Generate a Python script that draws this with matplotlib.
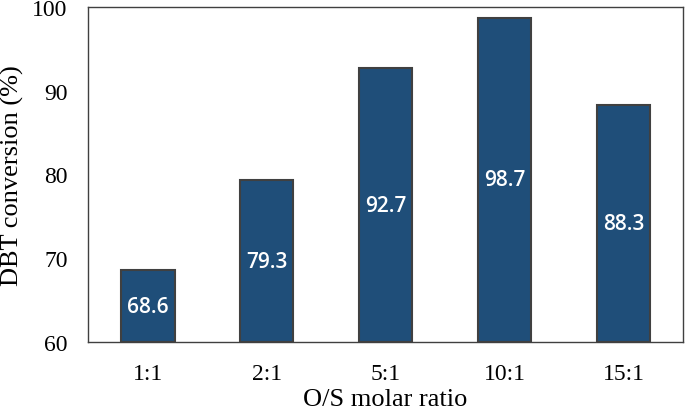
import matplotlib.pyplot as plt

ratios = ['1:1', '2:1', '5:1', '10:1', '15:1']
conversion = [68.6, 79.3, 92.7, 98.7, 88.3]

fig, ax = plt.subplots(figsize=(6.85, 4.1), dpi=100)
plt.subplots_adjust(left=0.129, right=0.997, top=0.981, bottom=0.163)

x = range(len(ratios))
ax.bar(x, [v - 60 for v in conversion], bottom=60, width=0.45,
       color='#1F4E79', edgecolor='#404040', linewidth=1.5)

for i, v in enumerate(conversion):
    ax.text(i, (v + 60) / 2, f'{v}', ha='center', va='center',
            color='white', fontsize=15, family='Open Sans', weight='semibold')

ax.set_xlim(-0.5, len(ratios) - 0.5)
ax.set_ylim(60, 100)
ax.set_yticks([60, 70, 80, 90, 100])
ax.set_xticks(list(x))
ax.set_xticklabels(ratios)
ax.tick_params(length=0, labelsize=17)
for lab in ax.get_xticklabels() + ax.get_yticklabels():
    lab.set_family('Liberation Serif')
ax.tick_params(axis='x', pad=15)
ax.tick_params(axis='y', pad=15)

for s in ax.spines.values():
    s.set_color('#404040')
    s.set_linewidth(1.0)

ax.set_xlabel('O/S molar ratio', family='Liberation Serif', fontsize=19, labelpad=3)
ax.set_ylabel('DBT conversion (%)', family='Liberation Serif', fontsize=19, labelpad=6)

plt.savefig('out.png')
